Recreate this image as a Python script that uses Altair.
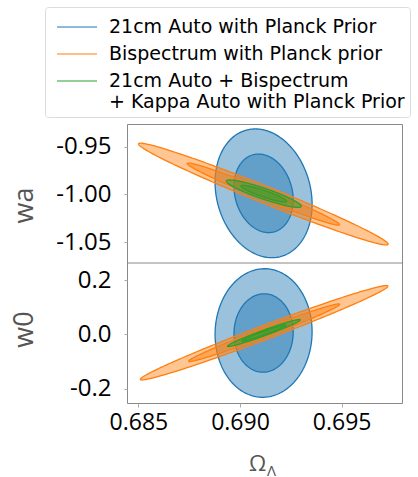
import numpy as np
import pandas as pd
import altair as alt

# ---- data -------------------------------------------------------------------
SERIES = ["21cm Auto with Planck Prior",
          "Bispectrum with Planck prior",
          "21cm Auto + Bispectrum|\u00a0+ Kappa Auto with Planck Prior"]
COLORS = ["#1f77b4", "#ff7f0e", "#2ca02c"]
PANELS = ["wa", "w0"]

# Fisher-forecast ellipse parameters (centre, 1-sigma widths, correlation)
OMEGA_CENTER = {"wa": [0.69116, 0.69115, 0.69117], "w0": [0.69116, 0.69119, 0.69118]}
PARAM_CENTER = {"wa": [-0.9988, -0.9996, -0.9992], "w0": [0.005, 0.006, 0.005]}
SIGMA_OMEGA = {"wa": [0.00096, 0.00247, 0.00074], "w0": [0.00096, 0.00245, 0.00072]}
SIGMA_PARAM = {"wa": [0.0272, 0.0215, 0.0058], "w0": [0.0953, 0.0700, 0.0200]}
CORR = {"wa": [-0.17, -0.984, -0.91], "w0": [0.02, 0.987, 0.975]}
LEVELS = ["outer", "inner"]
DCHI2 = {"outer": 6.18, "inner": 2.30}

X_DOMAIN = [0.68444, 0.69797]
X_TICKS = [0.685, 0.690, 0.695]
Y_DOMAIN = {"wa": [-1.072, -0.926], "w0": [-0.253, 0.263]}
Y_TICKS = {"wa": [-1.05, -1.00, -0.95], "w0": [-0.2, 0.0, 0.2]}
Y_FMT = {"wa": ".2f", "w0": ".1f"}

# panel layout (pixels inside the single view)
W = 275
PANEL_RANGE = {"wa": [139, 0], "w0": [279, 139]}
TITLE_Y = {"wa": 81, "w0": 205}

# ---- build ellipse outlines ---------------------------------------------------
rows = []
t = np.linspace(0, 2 * np.pi, 241)
for p in PANELS:
    for i, s in enumerate(SERIES):
        for lev in LEVELS:
            a = np.sqrt(DCHI2[lev])
            mx, my = OMEGA_CENTER[p][i], PARAM_CENTER[p][i]
            sx, sy, r = SIGMA_OMEGA[p][i], SIGMA_PARAM[p][i], CORR[p][i]
            xs = mx + a * sx * np.cos(t)
            ys = my + a * sy * (r * np.cos(t) + np.sqrt(1 - r * r) * np.sin(t))
            for k, (xx, yy) in enumerate(zip(xs, ys)):
                rows.append({"panel": p, "series": s, "level": lev, "k": k, "x": xx, "y": yy})
df = pd.DataFrame(rows)

stroke_scale = alt.Scale(domain=SERIES, range=COLORS)
fill_scale = alt.Scale(domain=SERIES, range=COLORS)
x_scale = alt.Scale(domain=X_DOMAIN, nice=False, zero=False)

legend = alt.Legend(
    orient="none", legendX=-82, legendY=-117, title=None,
    symbolType="M-1.43,0H1.43", symbolSize=784, symbolStrokeWidth=1.2,
    labelFont="DejaVu Sans", labelFontSize=19, labelColor="black", labelLimit=600,
    labelExpr="split(datum.label, '|')", labelOffset=17, symbolOffset=12,
    rowPadding=2, padding=5, strokeColor="#dcdcdc", fillColor="white", cornerRadius=3,
)

x_axis = alt.Axis(
    values=X_TICKS, title="Ω", format=".3f",
    labelFont="Open Sans", labelFontSize=23, labelColor="black", labelPadding=4,
    tickSize=4, tickColor="#aaaaaa", domain=False, grid=False,
    titleFont="Open Sans", titleFontSize=22, titleFontWeight="normal", titleColor="#555555",
    titleX=130, titleY=67, titleBaseline="alphabetic", titleAlign="center",
)


def panel_layer(p):
    y_scale = alt.Scale(domain=Y_DOMAIN[p], range=PANEL_RANGE[p], nice=False, zero=False)
    y_axis = alt.Axis(
        values=Y_TICKS[p], title=p, orient="left",
        labelExpr=f"(datum.value < 0 ? '-' : '') + format(abs(datum.value), '{Y_FMT[p]}')",
        labelFont="Open Sans", labelFontSize=24, labelColor="black", labelPadding=13,
        tickSize=3, tickColor="#aaaaaa", domain=False, grid=False,
        titleFont="Open Sans", titleFontSize=27, titleFontWeight="normal", titleColor="#555555",
        titleX=-95, titleY=TITLE_Y[p], titleBaseline="alphabetic",
        titleAngle=-90, titleAlign="center",
    )
    layers = []
    for s in SERIES:
        for lev in LEVELS:
            sub = df[(df.panel == p) & (df.series == s) & (df.level == lev)]
            layers.append(
                alt.Chart(sub).mark_line(fillOpacity=0.45, strokeWidth=1.3).encode(
                    x=alt.X("x:Q", scale=x_scale, axis=x_axis),
                    y=alt.Y("y:Q", scale=y_scale, axis=y_axis),
                    order="k:Q",
                    stroke=alt.Stroke("series:N", scale=stroke_scale, legend=legend),
                    fill=alt.Fill("series:N", scale=fill_scale, legend=legend),
                )
            )
    if p == "wa":
        # panel divider at the bottom of the wa range
        layers.append(
            alt.Chart(pd.DataFrame({"y": [Y_DOMAIN["wa"][0]]})).mark_rule(
                color="#888888", strokeWidth=1
            ).encode(y=alt.Y("y:Q", scale=y_scale, axis=y_axis))
        )
    else:
        layers.append(
            alt.Chart(pd.DataFrame({"t": ["Λ"]})).mark_text(
                font="Open Sans", fontSize=15, color="#555555", align="left",
                baseline="alphabetic",
            ).encode(x=alt.value(140), y=alt.value(352), text="t:N")
        )
    return alt.layer(*layers)


chart = alt.layer(panel_layer("wa"), panel_layer("w0")).resolve_scale(
    y="independent", x="shared", stroke="shared", fill="shared"
).resolve_axis(y="independent").properties(
    width=W, height=279,
    autosize=alt.AutoSizeParams(type="none"),
    padding={"left": 127, "top": 124, "right": 16, "bottom": 74},
).configure_view(stroke="#888888", strokeWidth=1)

chart.save("out.html", embed_options={"renderer": "svg", "actions": False})
